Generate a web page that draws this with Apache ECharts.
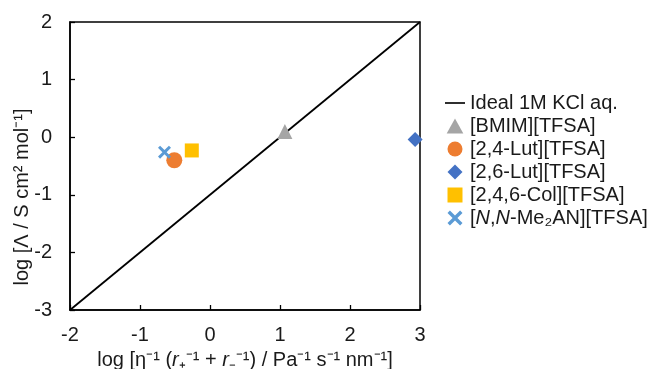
<!DOCTYPE html>
<html><head><meta charset="utf-8">
<script src="https://cdn.jsdelivr.net/npm/echarts@6/dist/echarts.min.js"></script>
<style>html,body{margin:0;padding:0;background:#fff}#c{width:650px;height:369px}</style>
</head><body><div id="c"></div>
<script>
const idealX = [-2, 3];
const idealY = [-3, 2];
const ionicNames = ['[BMIM][TFSA]', '[2,4-Lut][TFSA]', '[2,6-Lut][TFSA]', '[2,4,6-Col][TFSA]', '[N,N-Me2AN][TFSA]'];
const xVals = [1.07, -0.51, 2.93, -0.26, -0.65];
const yVals = [0.10, -0.40, -0.04, -0.23, -0.26];
const xTicks = [-2, -1, 0, 1, 2, 3];
const yTicks = [-3, -2, -1, 0, 1, 2];

const colors = ['#A5A5A5', '#ED7D31', '#4472C4', '#FFC000', '#5B9BD5'];
const crossPath = 'path://M0,1.6 L1.6,0 L5,3.4 L8.4,0 L10,1.6 L6.6,5 L10,8.4 L8.4,10 L5,6.6 L1.6,10 L0,8.4 L3.4,5 Z';
const symbols = ['triangle', 'circle', 'diamond', 'rect', crossPath];
const legendIcons = ['path://M5,0 L10,9 L0,9 Z', 'circle', 'path://M5,0 L10,5 L5,10 L0,5 Z',
  'path://M0,0 H10 V10 H0 Z', crossPath];
const sizes = [15, 16, 15, 14, 13];
const FONT = 'Liberation Sans, Arial, sans-serif';
const TXT = '#1a1a1a';

const chart = echarts.init(document.getElementById('c'));
const series = [{
  name: 'Ideal 1M KCl aq.', type: 'line', symbol: 'none',
  data: idealX.map((x, i) => [x, idealY[i]]),
  lineStyle: { color: '#000', width: 1.8 }, itemStyle: { color: '#000' }, z: 1
}];
ionicNames.forEach((n, i) => series.push({
  name: n, type: 'scatter', symbol: symbols[i], symbolSize: sizes[i],
  data: [[xVals[i], yVals[i]]], itemStyle: { color: colors[i], opacity: 1 }, z: 3
}));

const legendFmt = { '[N,N-Me2AN][TFSA]': '[{i|N},{i|N}-Me₂AN][TFSA]' };
const legendData = [{ name: 'Ideal 1M KCl aq.', icon: 'path://M0,0 H22 V1.8 H0 Z' }]
  .concat(ionicNames.map((n, i) => ({ name: n, icon: legendIcons[i] })));

chart.setOption({
  animation: false,
  textStyle: { fontFamily: FONT },
  grid: { left: 70, right: 230, top: 22, bottom: 59, outerBoundsMode: 'none', containLabel: false,
    show: true, borderColor: '#000', borderWidth: 1.5 },
  xAxis: {
    type: 'value', min: -2, max: 3, interval: 1,
    axisLine: { onZero: false, lineStyle: { color: '#000', width: 1.5 } },
    axisTick: { inside: true, length: 5, lineStyle: { color: '#000', width: 1.3 } },
    splitLine: { show: false },
    axisLabel: { color: TXT, fontSize: 20, margin: 15, fontFamily: FONT },
    name: 'log [η⁻¹ ({i|r}₊⁻¹ + {i|r}₋⁻¹) / Pa⁻¹ s⁻¹ nm⁻¹]',
    nameLocation: 'middle', nameGap: 40,
    nameTextStyle: { color: TXT, fontSize: 20, fontFamily: FONT,
      rich: { i: { fontStyle: 'italic', fontSize: 20, color: TXT, fontFamily: FONT } } }
  },
  yAxis: {
    type: 'value', min: -3, max: 2, interval: 1,
    axisLine: { onZero: false, lineStyle: { color: '#000', width: 1.5 } },
    axisTick: { show: true, inside: true, length: 5, lineStyle: { color: '#000', width: 1.3 } },
    splitLine: { show: false },
    axisLabel: { color: TXT, fontSize: 20, margin: 18, fontFamily: FONT }
  },
  graphic: [{
    type: 'text', x: 22, y: 197, rotation: Math.PI / 2,
    style: { text: 'log [Λ / S cm² mol⁻¹]', fill: TXT, font: '20px ' + FONT,
      align: 'center', verticalAlign: 'middle' }
  }],
  legend: {
    orient: 'vertical', left: 440, top: 88, itemWidth: 20, itemHeight: 15, itemGap: 3,
    symbolKeepAspect: true,
    textStyle: { color: TXT, fontSize: 20, fontFamily: FONT,
      rich: { i: { fontStyle: 'italic', fontSize: 20, color: TXT, fontFamily: FONT } } },
    formatter: n => legendFmt[n] || n,
    data: legendData
  },
  series: series
});
</script></body></html>
